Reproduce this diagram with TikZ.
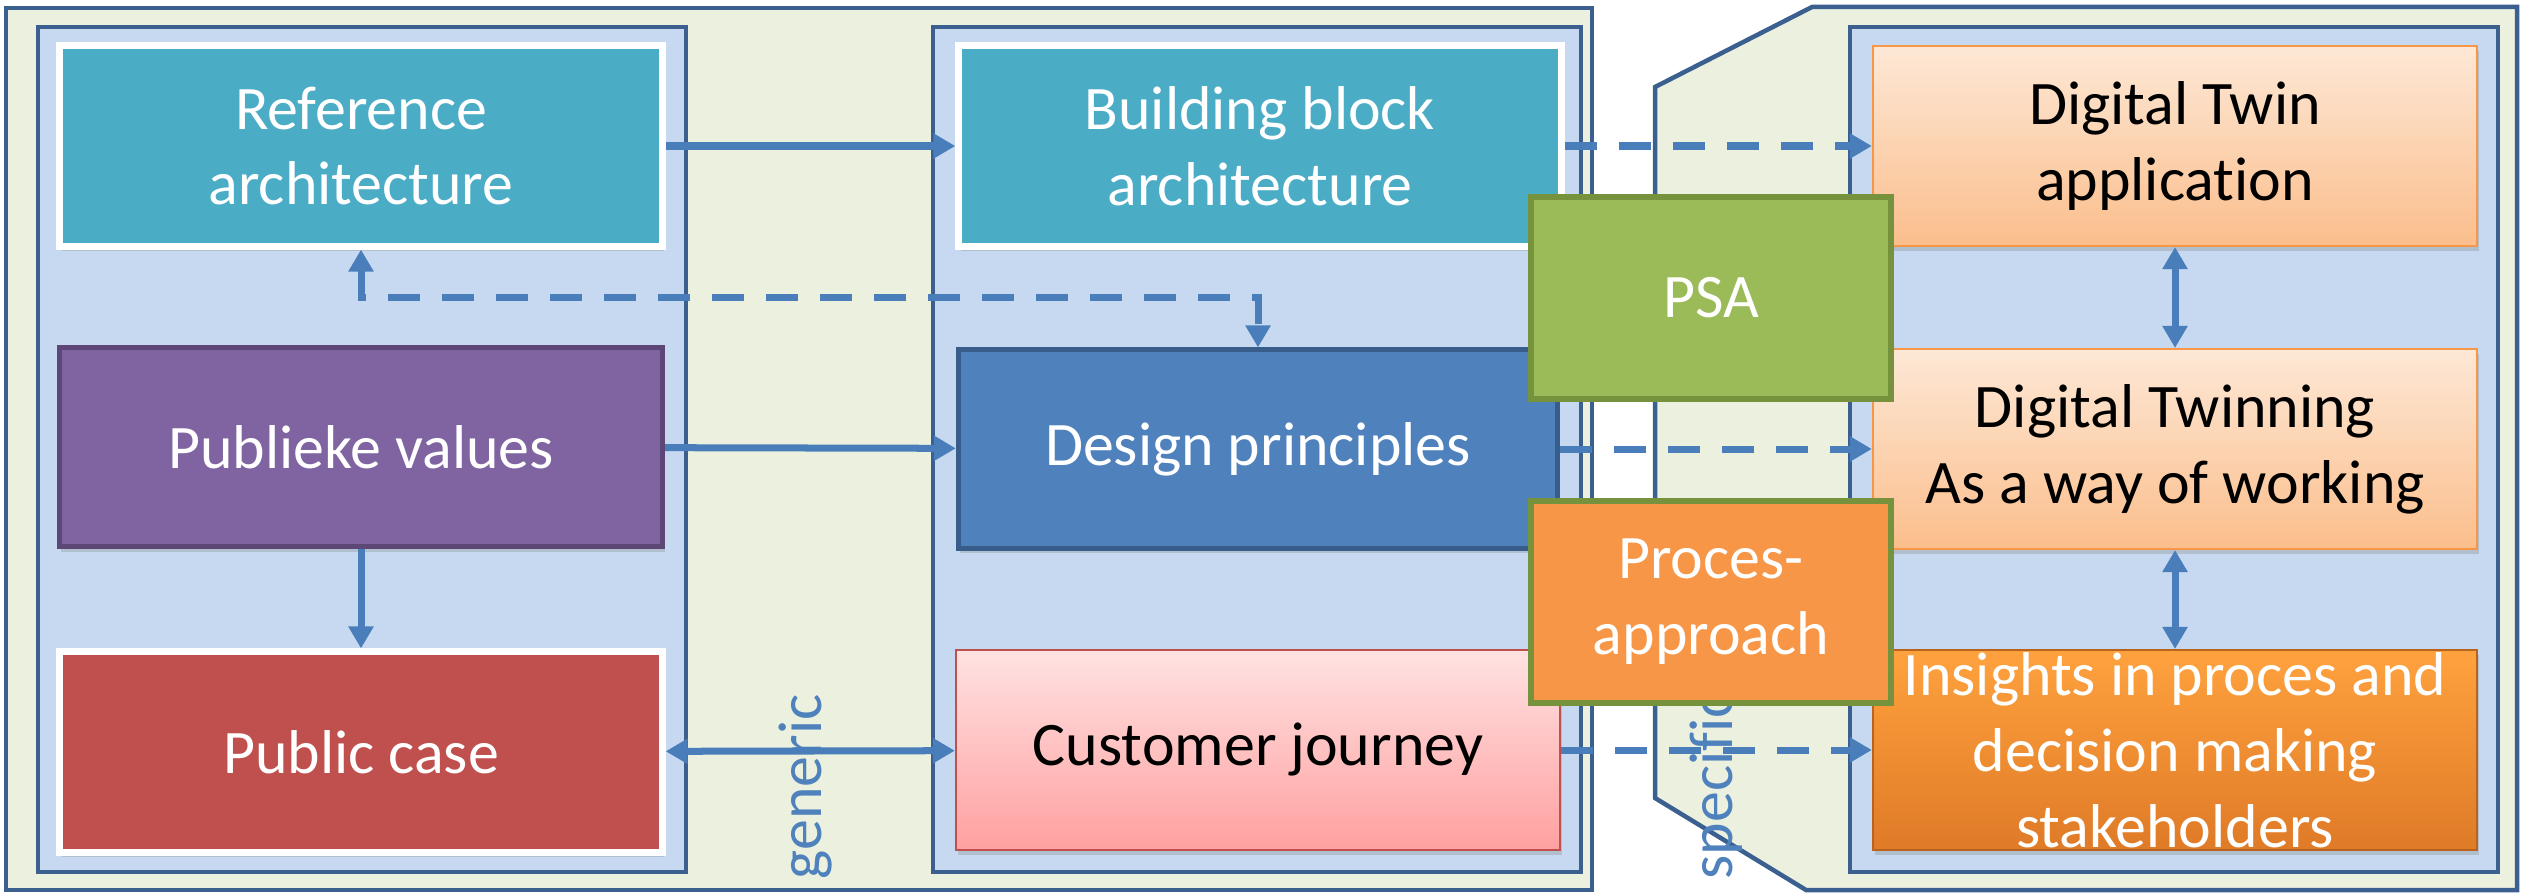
\documentclass[tikz,border=0pt]{standalone}
\usepackage{fontspec}
\setmainfont{Carlito}[Ligatures=NoCommon]
\usetikzlibrary{arrows.meta,shadows}

\definecolor{frameblue}{HTML}{3B6090}
\definecolor{frameback}{HTML}{EBF1DE}
\definecolor{panelblue}{HTML}{C6D9F1}
\definecolor{linkblue}{HTML}{4A7EBB}
\definecolor{tealbox}{HTML}{4BACC6}
\definecolor{purplebox}{HTML}{8064A2}
\definecolor{purpleline}{HTML}{5C4776}
\definecolor{redbox}{HTML}{C0504D}
\definecolor{bluebox}{HTML}{4F81BD}
\definecolor{blueline}{HTML}{385D8A}
\definecolor{greenbox}{HTML}{9BBB59}
\definecolor{greenline}{HTML}{76923C}
\definecolor{orangebox}{HTML}{F79646}
\definecolor{pinktop}{HTML}{FFE2E2}
\definecolor{pinkbottom}{HTML}{FFA0A0}
\definecolor{peachtop}{HTML}{FDE8D6}
\definecolor{peachbottom}{HTML}{FBBE8C}
\definecolor{instop}{HTML}{FFA23E}
\definecolor{insbottom}{HTML}{DF7A27}
\definecolor{insline}{HTML}{B8641E}

\begin{document}
\begin{tikzpicture}[x=0.01cm,y=-0.01cm,
    >={Triangle[length=0.22cm,width=0.24cm]},
    box/.style={minimum width=6.02cm,minimum height=2cm,align=center,inner sep=0pt,
                font=\fontsize{17.6}{21.6}\selectfont,text=white},
    shade box/.style={box,drop shadow={shadow xshift=0.02cm,shadow yshift=-0.05cm,opacity=.3}},
    white box/.style={shade box,draw=white,line width=0.07cm},
    grad box/.style={shade box,line width=0.02cm,text=black,minimum width=6.04cm},
    tag box/.style={box,draw=greenline,line width=0.06cm,minimum width=3.59cm,minimum height=2.02cm},
    frame/.style={draw=frameblue,line width=0.045cm},
    link/.style={draw=linkblue,line width=0.07cm},
    dash link/.style={link,dash pattern=on 0.32cm off 0.22cm},
    side/.style={rotate=90,anchor=base west,inner sep=0pt,text=bluebox,
                 font=\fontsize{17.6}{21.6}\selectfont}]

\useasboundingbox (0,0) rectangle (2522,894);

% generic and specific frames
\draw[frame,fill=frameback] (6,8) rectangle (1592,890);
\draw[frame,fill=frameback] (1655,87) -- (1812,7) -- (2517,7) -- (2517,890)
    -- (1806,890) -- (1655,798) -- cycle;
\foreach \x in {38,933,1850}
    \draw[frame,fill=panelblue] (\x,27) rectangle +(648,845);

% generic column
\node[white box,fill=tealbox] (Ref) at (361,146) {Reference\\architecture};
\node[shade box,fill=purplebox,draw=purpleline,line width=0.05cm,minimum width=6.03cm,minimum height=1.99cm] (PV) at (361,447) {Publieke values};
\node[white box,fill=redbox] (PC) at (361,752) {Public case};

% middle column
\node[white box,fill=tealbox] (BB) at (1260,146) {Building block\\architecture};
\node[shade box,fill=bluebox,draw=blueline,line width=0.05cm,minimum width=5.99cm,minimum height=1.98cm] (DP) at (1258,449) {Design principles};
\node[grad box,draw=redbox,top color=pinktop,bottom color=pinkbottom] (CJ) at (1258,750) {Customer journey};

% specific column
\node[grad box,draw=orangebox,top color=peachtop,bottom color=peachbottom] (DT) at (2175,146) {Digital Twin\\application};
\node[grad box,draw=orangebox,top color=peachtop,bottom color=peachbottom] (DTW) at (2175,449) {Digital Twinning\\As a way of working};
\node[grad box,draw=insline,top color=instop,bottom color=insbottom,text=white] (INS) at (2175,750) {Insights in proces and\\decision making\\stakeholders};

\node[side] (gen) at (821,880) {generic};
\node[side] (spec) at (1732,880) {specific};

% connectors
\draw[link,->] (Ref) -- (BB);
\draw[link,->] (PV) -- (DP);
\draw[link,->] (PV) -- (PC);
\draw[link,<->] (PC) -- (CJ);
\draw[dash link,<->] (Ref.south) -- ++(0,48) -| (DP.north);
\draw[dash link,->] (BB) -- (DT);
\draw[dash link,->] (DP) -- (DTW);
\draw[dash link,->] (CJ) -- (INS);
\draw[link,<->] (DT) -- (DTW);
\draw[link,<->] (DTW) -- (INS);

% overlapping tags
\node[tag box,fill=greenbox] (PSA) at (1711,298) {PSA};
\node[tag box,fill=orangebox] (PA) at (1711,602) {Proces-\\approach};
\end{tikzpicture}
\end{document}
